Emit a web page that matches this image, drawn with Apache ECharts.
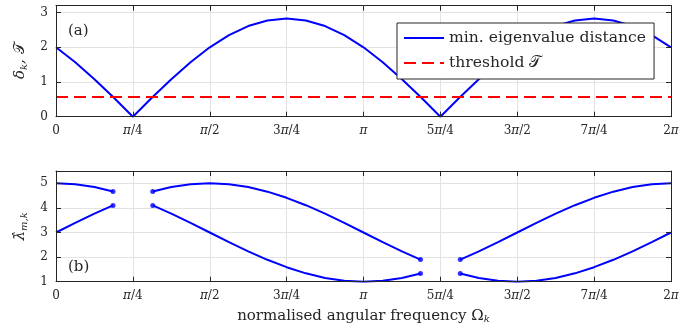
<!DOCTYPE html>
<html>
<head>
<meta charset="utf-8">
<script src="https://cdn.jsdelivr.net/npm/echarts@6/dist/echarts.min.js"></script>
<style>html,body{margin:0;padding:0;background:#fff}#c{width:699px;height:335px}</style>
</head>
<body>
<div id="c"></div>
<script>
// x values are in units of pi
const xTickLabels = ['0', '{i|π}/4', '{i|π}/2', '3{i|π}/4', '{i|π}', '5{i|π}/4', '3{i|π}/2', '7{i|π}/4', '2{i|π}'];

// panel (a): minimum eigenvalue distance, sampled every pi/16
const topOmega = [0, 0.0625, 0.125, 0.1875, 0.25, 0.3125, 0.375, 0.4375, 0.5, 0.5625, 0.625, 0.6875, 0.75, 0.8125, 0.875, 0.9375, 1,
  1.0625, 1.125, 1.1875, 1.25, 1.3125, 1.375, 1.4375, 1.5, 1.5625, 1.625, 1.6875, 1.75, 1.8125, 1.875, 1.9375, 2];
const minDist = [2.0, 1.571, 1.082, 0.552, 0, 0.552, 1.082, 1.571, 2.0, 2.352, 2.613, 2.774, 2.828, 2.774, 2.613, 2.352, 2.0,
  1.571, 1.082, 0.552, 0, 0.552, 1.082, 1.571, 2.0, 2.352, 2.613, 2.774, 2.828, 2.774, 2.613, 2.352, 2.0];
const threshold = 0.57;

// panel (b): sorted eigenvalues (null = gap where distance < threshold)
const botOmega = [0, 0.0625, 0.125, 0.1854, 0.25, 0.3146, 0.375, 0.4375, 0.5, 0.5625, 0.625, 0.6875, 0.75, 0.8125, 0.875, 0.9375, 1,
  1.0625, 1.125, 1.1854, 1.25, 1.3146, 1.375, 1.4375, 1.5, 1.5625, 1.625, 1.6875, 1.75, 1.8125, 1.875, 1.9375, 2];
const lambdaUpper = [5.00, 4.96, 4.85, 4.67, null, 4.67, 4.85, 4.96, 5.00, 4.96, 4.85, 4.66, 4.41, 4.11, 3.77, 3.39, 3.00,
  2.61, 2.23, 1.90, null, 1.90, 2.23, 2.61, 3.00, 3.39, 3.77, 4.11, 4.41, 4.66, 4.85, 4.96, 5.00];
const lambdaLower = [3.00, 3.39, 3.77, 4.10, null, 4.10, 3.77, 3.39, 3.00, 2.61, 2.23, 1.89, 1.59, 1.34, 1.15, 1.04, 1.00,
  1.04, 1.15, 1.33, null, 1.33, 1.15, 1.04, 1.00, 1.04, 1.15, 1.34, 1.59, 1.89, 2.23, 2.61, 3.00];

const FONT = 'DejaVu Serif';
const AX = '#262626';
const GRIDC = '#e3e3e3';
const BLUE = '#0000ff';
const RED = '#ff0000';

function pairs(xs, ys) { return xs.map((x, i) => [x, ys[i]]); }
function endpoints(xs, ys) {
  const out = [];
  ys.forEach((v, i) => {
    if (v === null) return;
    const prevNull = i > 0 && ys[i - 1] === null;
    const nextNull = i < ys.length - 1 && ys[i + 1] === null;
    if (prevNull || nextNull) out.push([xs[i], v]);
  });
  return out;
}

const grids = [
  { left: 56, right: 28, top: 5.7, height: 111 },
  { left: 56, right: 28, top: 171, height: 110.7 }
];
const yRanges = [[0, 3.2], [1, 5.5]];

const xAxes = [], yAxes = [];
const tickLabelStyle = {
  fontFamily: FONT, fontSize: 12, color: '#262626',
  rich: { i: { fontFamily: FONT, fontStyle: 'italic', fontSize: 12, color: '#262626' } }
};
const lineOn = { show: true, onZero: false, lineStyle: { color: AX, width: 1 } };
const lineOff = { show: false, onZero: false };
const tickOn = { show: true, inside: true, length: 5, lineStyle: { color: AX } };
[0, 1].forEach(g => {
  const xBase = { gridIndex: g, type: 'value', min: 0, max: 2, interval: 0.25 };
  // grid lines (under series)
  xAxes.push(Object.assign({}, xBase, { position: 'bottom', z: 0,
    axisLine: lineOff, axisTick: { show: false }, axisLabel: { show: false },
    splitLine: { show: true, lineStyle: { color: GRIDC, width: 1 } } }));
  // bottom axis (above series)
  xAxes.push(Object.assign({}, xBase, { position: 'bottom', z: 5,
    axisLine: lineOn, axisTick: tickOn,
    axisLabel: Object.assign({ show: true, margin: 8,
      formatter: v => xTickLabels[Math.round(v / 0.25)] }, tickLabelStyle),
    splitLine: { show: false },
    name: g === 1 ? 'normalised angular frequency {o|Ω}{s|k}' : '',
    nameLocation: 'middle', nameGap: 25,
    nameTextStyle: { fontFamily: FONT, fontSize: 15, color: '#262626',
      rich: { o: { fontFamily: FONT, fontSize: 15, color: '#262626' },
              s: { fontFamily: FONT, fontStyle: 'italic', fontSize: 10, color: '#262626', verticalAlign: 'bottom', padding: [8, 0, 0, 0] } } } }));
  // top axis
  xAxes.push(Object.assign({}, xBase, { position: 'top', z: 5,
    axisLine: lineOn, axisTick: tickOn,
    axisLabel: { show: false }, splitLine: { show: false } }));

  const yBase = { gridIndex: g, type: 'value', min: yRanges[g][0], max: yRanges[g][1], interval: 1 };
  yAxes.push(Object.assign({}, yBase, { position: 'left', z: 0,
    axisLine: lineOff, axisTick: { show: false }, axisLabel: { show: false },
    splitLine: { show: true, lineStyle: { color: GRIDC, width: 1 } } }));
  yAxes.push(Object.assign({}, yBase, { position: 'left', z: 5,
    axisLine: lineOn, axisTick: tickOn,
    axisLabel: Object.assign({ show: true, margin: 8, showMaxLabel: false }, tickLabelStyle),
    splitLine: { show: false },
    name: g === 0 ? '{a|δ}{s|k}{a|, }{t|𝒯}' : '{a|λ\u0302}{s|m,k}',
    nameLocation: 'middle', nameGap: 25, nameRotate: 90,
    nameTextStyle: { fontFamily: FONT, fontSize: 15, color: '#262626',
      rich: { a: { fontFamily: FONT, fontStyle: 'italic', fontSize: 15, color: '#262626' },
              t: { fontFamily: FONT, fontSize: 15, color: '#262626' },
              s: { fontFamily: FONT, fontStyle: 'italic', fontSize: 10, color: '#262626', padding: [8, 0, 0, 0] } } } }));
  yAxes.push(Object.assign({}, yBase, { position: 'right', z: 5,
    axisLine: lineOn, axisTick: tickOn,
    axisLabel: { show: false }, splitLine: { show: false } }));
});

const option = {
  animation: false,
  backgroundColor: '#fff',
  grid: grids,
  xAxis: xAxes,
  yAxis: yAxes,
  legend: {
    data: ['min. eigenvalue distance', 'threshold 𝒯'],
    orient: 'vertical', left: 397, top: 23,
    padding: [7, 8, 8, 6], itemGap: 9, itemWidth: 40, itemHeight: 14,
    backgroundColor: '#fff', borderColor: AX, borderWidth: 1, borderRadius: 0,
    itemStyle: { opacity: 0 },
    textStyle: { fontFamily: FONT, fontSize: 15.6, color: '#262626' },
    z: 10
  },
  graphic: [
    { type: 'text', left: 68, top: 24, z: 20, style: { text: '(a)', font: '15px "DejaVu Serif"', fill: '#262626' } },
    { type: 'text', left: 68, top: 260, z: 20, style: { text: '(b)', font: '15px "DejaVu Serif"', fill: '#262626' } }
  ],
  series: [
    { name: 'min. eigenvalue distance', type: 'line', xAxisIndex: 0, yAxisIndex: 0,
      data: pairs(topOmega, minDist), symbol: 'none', lineStyle: { color: BLUE, width: 2 }, itemStyle: { color: BLUE } },
    { name: 'threshold 𝒯', type: 'line', xAxisIndex: 0, yAxisIndex: 0,
      data: [[0, threshold], [2, threshold]], symbol: 'none',
      lineStyle: { color: RED, width: 2, type: [12, 6] }, itemStyle: { color: RED } },
    { name: 'upper', type: 'line', xAxisIndex: 3, yAxisIndex: 3, connectNulls: false,
      data: pairs(botOmega, lambdaUpper), symbol: 'none', lineStyle: { color: BLUE, width: 2 } },
    { name: 'lower', type: 'line', xAxisIndex: 3, yAxisIndex: 3, connectNulls: false,
      data: pairs(botOmega, lambdaLower), symbol: 'none', lineStyle: { color: BLUE, width: 2 } },
    { name: 'ends', type: 'scatter', xAxisIndex: 3, yAxisIndex: 3, symbolSize: 5,
      data: endpoints(botOmega, lambdaUpper).concat(endpoints(botOmega, lambdaLower)),
      itemStyle: { color: BLUE } }
  ]
};
const chart = echarts.init(document.getElementById('c'), null, { renderer: 'canvas' });
chart.setOption(option);
</script>
</body>
</html>
